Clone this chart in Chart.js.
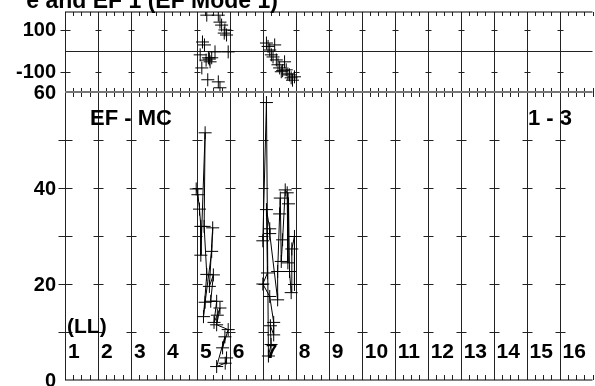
<!DOCTYPE html>
<html>
<head>
<meta charset="utf-8">
<script src="https://cdn.jsdelivr.net/npm/chart.js@4.4.1/dist/chart.umd.min.js"></script>
<style>
html, body { margin:0; padding:0; background:#fff; overflow:hidden; width:595px; height:386px; }
canvas { position:absolute; left:0; top:0; }
</style>
</head>
<body>
<canvas id="cnvPhase" width="600" height="100"></canvas>
<canvas id="cnvMC" width="600" height="400"></canvas>
<script>
const FONT = '"Liberation Sans", Arial, Helvetica, sans-serif';

// texts
const plotTitle = 'e and EF 1 (EF Mode 1)';
const panelTitle = 'EF - MC';
const panelRange = '1 - 3';
const axisName = '(LL)';

// L-shell grid + labels
const gridL = [1, 2, 3, 4, 5, 6, 7, 8, 9, 10, 11, 12, 13, 14, 15, 16];
const lLabels = ['1', '2', '3', '4', '5', '6', '7', '8', '9', '10', '11', '12', '13', '14', '15', '16'];
const phaseTicks = [100, -100];
const mcTicks = [0, 20, 40, 60];

// top panel (phase), first and second pass
const phL1 = [5.3, 5.65, 5.7, 5.75, 5.85, 5.83, 5.9, 5.95, 5.17, 5.23, 5.1, 5.35, 5.45, 5.4, 5.55, 5.15, 5.33, 5.65, 5.7, 5.28, 5.38];
const phV1 = [168, 168, 135, 121, 98, 83, 74, -6, 41, 27, -20, -34, -34, -53, -6, -82, -138, -148, -176, -45, -40];
const phL2 = [7.11, 7.16, 7.36, 7.21, 7.26, 7.41, 7.46, 7.66, 7.51, 7.56, 7.71, 7.81, 7.86, 7.96, 7.76, 7.31, 7.6, 7.9];
const phV2 = [36, 20, 27, 3, -20, -44, -67, -53, -82, -100, -91, -115, -129, -124, -110, -30, -95, -140];

// main panel (EF - MC), first and second pass
const mcL1 = [4.98, 5.03, 5.08, 5.12, 5.12, 5.25, 5.22, 5.3, 5.2, 5.25, 5.45, 5.48, 5.38, 5.5, 5.42, 5.6, 5.52, 5.62, 5.7, 5.6, 5.95, 5.78, 5.85, 5.6, 5.86, 5.9];
const mcV1 = [39.8, 38.6, 35.6, 32.0, 26.0, 51.5, 32.0, 22.0, 13.2, 16.2, 26.8, 31.7, 19.5, 21.9, 16.4, 16.4, 12.0, 13.5, 15.0, 11.5, 10.5, 6.7, 9.0, 2.8, 3.5, 4.6];
const mcL2 = [7.0, 7.11, 7.17, 7.25, 7.23, 7.33, 7.33, 7.21, 7.0, 7.14, 7.11, 7.21, 7.21, 7.45, 7.45, 7.51, 7.53, 7.56, 7.6, 7.68, 7.74, 7.76, 7.78, 7.81, 7.86, 7.88, 7.96, 7.96];
const mcV2 = [29.0, 57.8, 5.0, 7.4, 11.3, 9.4, 12.0, 17.4, 20.0, 22.3, 35.5, 31.5, 30.5, 16.7, 22.6, 34.6, 37.9, 24.7, 29.2, 39.6, 39.0, 24.4, 36.7, 22.6, 18.2, 27.3, 29.9, 19.9];

const toXY = (xs, ys) => xs.map((v, i) => ({x: v, y: ys[i]}));

// draws the grid lines, cross ticks, minor edge ticks and y labels
const gridPlugin = {
    id: 'grid',
    beforeDatasetsDraw(chart, args, opts) {
        const ctx = chart.ctx, a = chart.chartArea, x = chart.scales.x, y = chart.scales.y;
        const seg = (x1, y1, x2, y2) => { ctx.beginPath(); ctx.moveTo(x1, y1); ctx.lineTo(x2, y2); ctx.stroke(); };
        ctx.save();
        ctx.strokeStyle = '#222';
        ctx.lineWidth = 1;
        gridL.forEach((l, i) => {
            const px = Math.round(x.getPixelForValue(l)) + 0.5;
            seg(px, a.top, px, a.bottom);
            opts.crossAt.forEach(v => {
                const py = Math.round(y.getPixelForValue(v)) + 0.5;
                const h = i === 0 ? opts.crossHalf + 2 : opts.crossHalf;
                seg(px - h, py, px + h, py);
            });
        });
        for (let l = 1; l <= 17; l += 0.25) {
            const px = Math.round(x.getPixelForValue(l)) + 0.5;
            seg(px, a.top, px, a.top + opts.minorLen);
            seg(px, a.bottom, px, a.bottom - opts.minorLen);
        }
        if (opts.zeroLine) {
            const py = Math.round(y.getPixelForValue(0)) + 0.5;
            seg(a.left, py, a.right, py);
        }
        if (opts.topLine) {
            ctx.strokeStyle = opts.topLine.color;
            ctx.lineWidth = opts.topLine.width;
            seg(a.left, a.top, a.right, a.top);
        }
        if (opts.bottomLine) {
            ctx.strokeStyle = opts.bottomLine.color;
            ctx.lineWidth = opts.bottomLine.width;
            seg(a.left, a.bottom, a.right, a.bottom);
        }
        // y tick labels
        ctx.fillStyle = '#000';
        ctx.font = 'bold 20px ' + FONT;
        ctx.textAlign = 'right';
        ctx.textBaseline = 'middle';
        opts.labelAt.forEach(v => ctx.fillText(String(v), a.left - 9, y.getPixelForValue(v) + 1));
        ctx.restore();
    }
};

// texts inside the main panel
const labelPlugin = {
    id: 'labels',
    afterDraw(chart, args, opts) {
        if (!opts.show) return;
        const ctx = chart.ctx, x = chart.scales.x;
        ctx.save();
        ctx.fillStyle = '#000';
        ctx.textBaseline = 'alphabetic';
        ctx.font = 'bold 22px ' + FONT;
        ctx.fillText(panelTitle, 90, 125);
        ctx.fillText(panelRange, 528, 125);
        ctx.font = 'bold 21px ' + FONT;
        ctx.fillText(axisName, 67, 333);
        gridL.forEach((l, i) => ctx.fillText(lLabels[i], x.getPixelForValue(l) + 3, 358));
        ctx.font = 'bold 23px ' + FONT;
        ctx.textAlign = 'right';
        ctx.fillText(plotTitle, 278, 8);
        ctx.restore();
    }
};

const yAxis = (min, max) => ({
    min: min, max: max,
    afterFit: s => { s.width = 65; },
    grid: {display: false, drawTicks: false},
    border: {display: false},
    ticks: {display: false}
});

const xAxis = {type: 'linear', min: 1, max: 17, display: false};

const crossPts = {pointStyle: 'cross', pointRadius: 6.5, pointBorderWidth: 1, pointBorderColor: '#000'};

var phaseChart = new Chart(document.getElementById('cnvPhase'), {
    type: 'scatter',
    data: {
        datasets: [
            Object.assign({data: toXY(phL1, phV1), showLine: false}, crossPts),
            Object.assign({data: toXY(phL2, phV2), showLine: false}, crossPts)
        ]
    },
    options: {
        responsive: false,
        animation: false,
        devicePixelRatio: 1,
        layout: {padding: {top: 12, bottom: 8, left: 0, right: 1}},
        scales: {x: xAxis, y: yAxis(-196, 183)},
        plugins: {
            legend: {display: false},
            tooltip: {enabled: false},
            grid: {crossAt: phaseTicks, labelAt: phaseTicks, crossHalf: 3, minorLen: 4, zeroLine: true, topLine: {color: '#000', width: 1}},
            labels: {show: false}
        }
    },
    plugins: [gridPlugin, labelPlugin]
});

var mcChart = new Chart(document.getElementById('cnvMC'), {
    type: 'scatter',
    data: {
        datasets: [
            Object.assign({data: toXY(mcL1, mcV1), showLine: true, borderColor: '#000', borderWidth: 1, tension: 0}, crossPts),
            Object.assign({data: toXY(mcL2, mcV2), showLine: true, borderColor: '#000', borderWidth: 1, tension: 0}, crossPts)
        ]
    },
    options: {
        responsive: false,
        animation: false,
        devicePixelRatio: 1,
        layout: {padding: {top: 92, bottom: 20, left: 0, right: 1}},
        scales: {x: xAxis, y: yAxis(0, 60)},
        plugins: {
            legend: {display: false},
            tooltip: {enabled: false},
            grid: {crossAt: [10, 20, 30, 40, 50], labelAt: mcTicks, crossHalf: 5, minorLen: 5, topLine: {color: '#777', width: 2}, bottomLine: {color: '#000', width: 1}},
            labels: {show: true}
        }
    },
    plugins: [gridPlugin, labelPlugin]
});
</script>
</body>
</html>
